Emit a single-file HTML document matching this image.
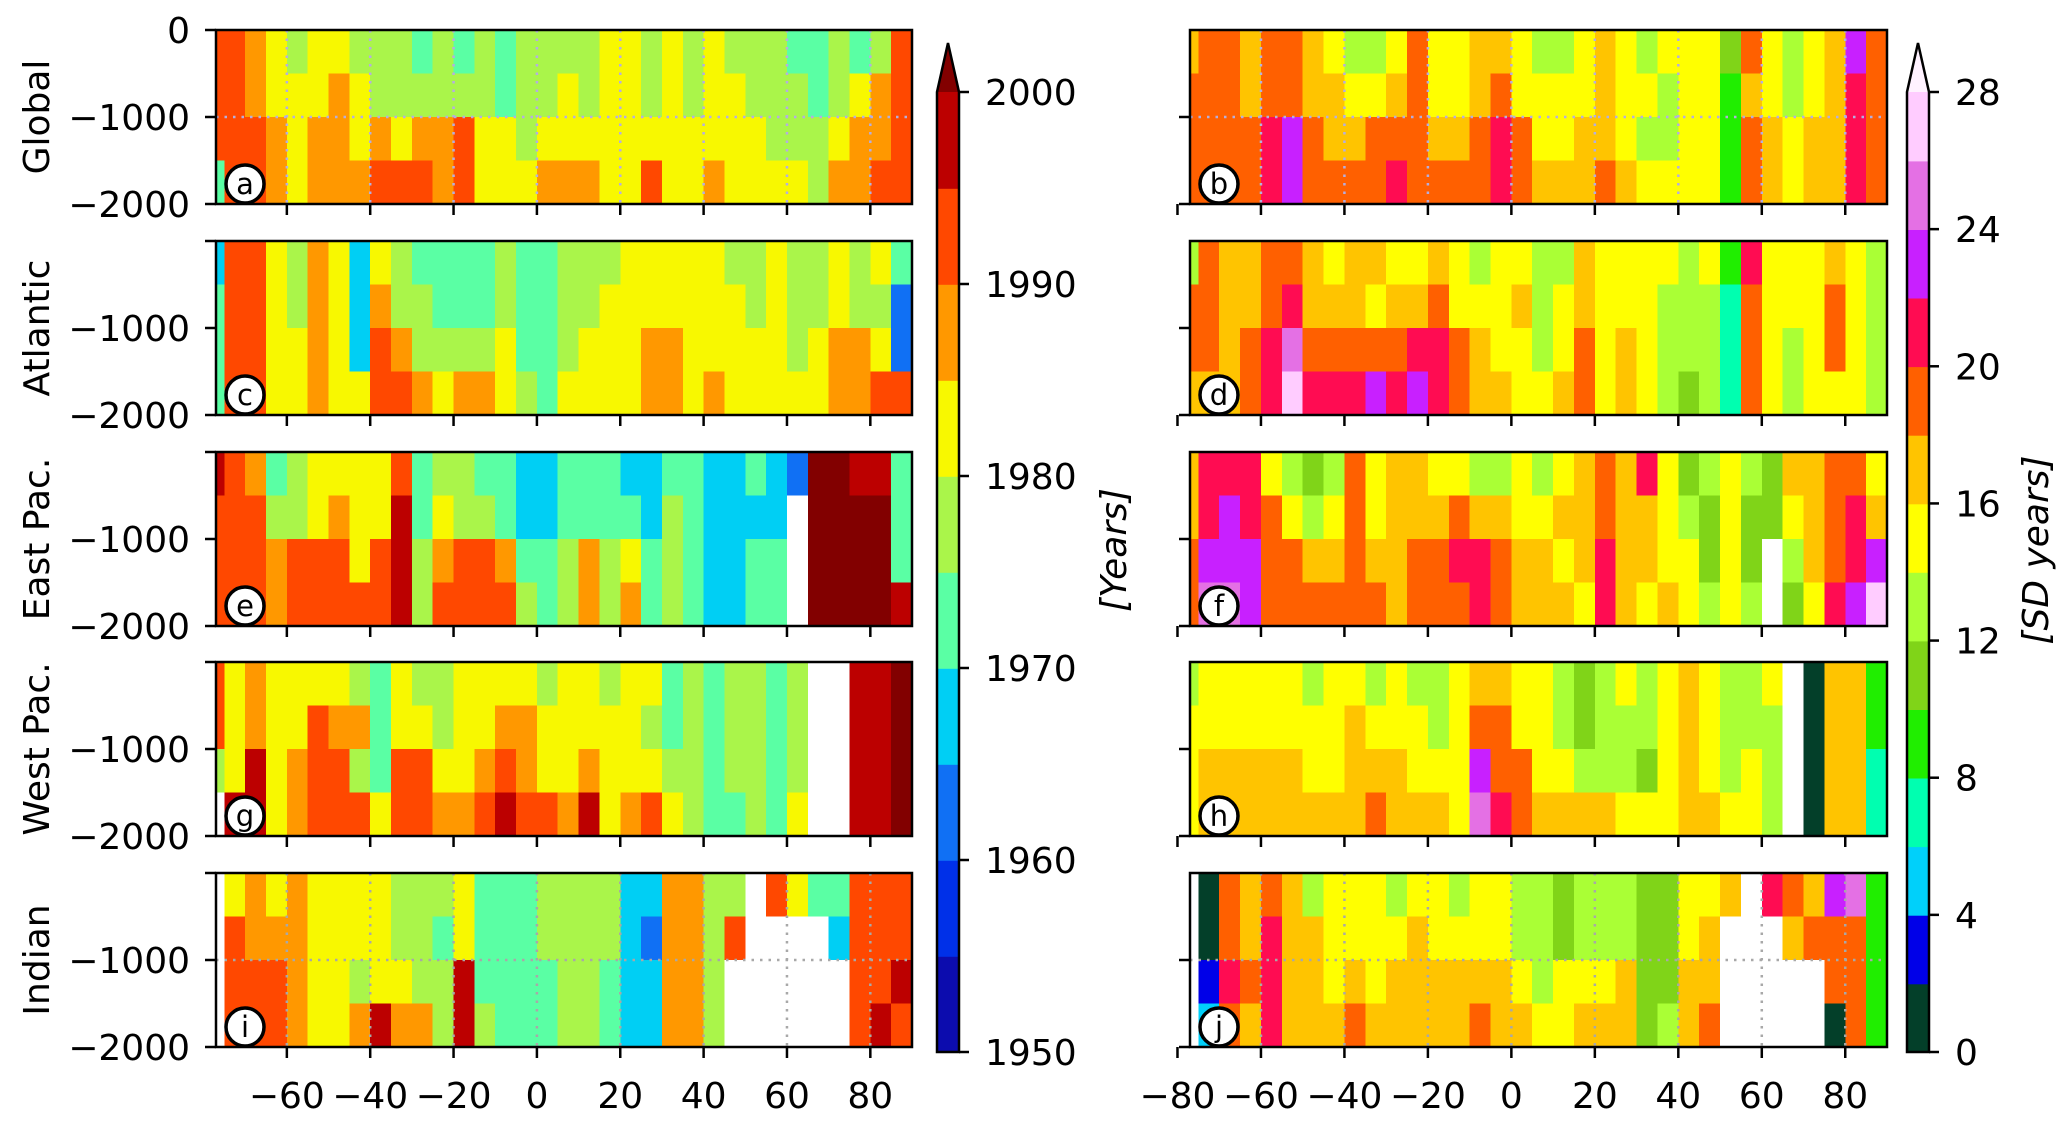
<!DOCTYPE html>
<html><head><meta charset="utf-8"><title>Ocean heat content timing maps</title>
<style>
html,body{margin:0;padding:0;background:#fff;}
svg{display:block;font-family:"DejaVu Sans","Liberation Sans",sans-serif;}
</style></head>
<body>
<svg id="fig" width="2067" height="1122" viewBox="0 0 2067 1122" xmlns="http://www.w3.org/2000/svg">
<g id="cells" shape-rendering="crispEdges"></g>
<g id="over"></g>
</svg>
<script>
// Latitude bin starts (5 degree bins), depth rows (m)
const lats = [-80,-75,-70,-65,-60,-55,-50,-45,-40,-35,-30,-25,-20,-15,-10,-5,0,5,10,15,20,25,30,35,40,45,50,55,60,65,70,75,80,85];
const depthEdges = [0,-500,-1000,-1500,-2000];
const xTicksLeft = [-60,-40,-20,0,20,40,60,80];
const xTicksRight = [-80,-60,-40,-20,0,20,40,60,80];
const yTicks = [0,-1000,-2000];
const yearTicks = [1950,1960,1970,1980,1990,2000];
const sdTicks = [0,4,8,12,16,20,24,28];
const regionNames = ["Global","Atlantic","East Pac.","West Pac.","Indian"];
const leftLetters = ["a","c","e","g","i"];
const rightLetters = ["b","d","f","h","j"];

// Year of emergence (left column); each entry = [0-500,500-1000,1000-1500,1500-2000] per latitude bin
const yrGlobal = [[1992,1992,1992,1972],[1992,1992,1992,1992],[1987,1987,1992,1992],[1982,1982,1987,1987],[1977,1982,1982,1982],[1982,1982,1987,1987],[1982,1987,1987,1987],[1977,1982,1982,1987],[1977,1977,1987,1992],[1977,1977,1982,1992],[1972,1977,1987,1992],[1977,1977,1987,1987],[1972,1977,1992,1992],[1977,1977,1982,1982],[1972,1972,1982,1982],[1977,1977,1977,1982],[1977,1977,1982,1987],[1977,1982,1982,1987],[1977,1977,1982,1987],[1982,1982,1982,1982],[1982,1982,1982,1982],[1977,1977,1982,1992],[1982,1982,1982,1982],[1977,1977,1982,1982],[1982,1982,1982,1987],[1977,1982,1982,1982],[1977,1977,1982,1982],[1977,1977,1977,1982],[1972,1977,1977,1982],[1972,1972,1977,1977],[1977,1977,1982,1987],[1972,1982,1987,1987],[1977,1987,1987,1992],[1992,1992,1992,1992]];
const yrAtlantic = [[1967,1972,1972,1972],[1992,1992,1992,1992],[1992,1992,1992,1992],[1982,1982,1982,1982],[1977,1977,1982,1982],[1987,1987,1987,1987],[1982,1982,1982,1982],[1967,1967,1967,1982],[1982,1987,1992,1992],[1977,1977,1987,1992],[1972,1977,1977,1987],[1972,1972,1977,1982],[1972,1972,1977,1987],[1972,1972,1977,1987],[1977,1977,1982,1982],[1972,1972,1972,1977],[1972,1972,1972,1972],[1977,1977,1977,1982],[1977,1977,1982,1982],[1977,1982,1982,1982],[1982,1982,1982,1982],[1982,1982,1987,1987],[1982,1982,1987,1987],[1982,1982,1982,1982],[1982,1982,1982,1987],[1977,1982,1982,1982],[1977,1977,1982,1982],[1982,1982,1982,1982],[1977,1977,1977,1982],[1977,1977,1982,1982],[1982,1982,1987,1987],[1977,1977,1987,1987],[1982,1977,1982,1992],[1972,1962,1962,1992]];
const yrEastPac = [[1997,1992,1992,1992],[1992,1992,1992,1992],[1987,1992,1992,1992],[1972,1977,1987,1987],[1977,1977,1992,1992],[1982,1982,1992,1992],[1982,1987,1992,1992],[1982,1982,1982,1992],[1982,1982,1992,1992],[1992,1997,1997,1997],[1972,1972,1977,1977],[1977,1982,1987,1992],[1977,1977,1992,1992],[1972,1977,1992,1992],[1972,1972,1987,1992],[1967,1967,1972,1977],[1967,1967,1972,1972],[1972,1972,1977,1977],[1972,1972,1987,1987],[1972,1972,1977,1977],[1967,1972,1982,1987],[1967,1967,1972,1972],[1972,1977,1977,1977],[1972,1972,1972,1972],[1967,1967,1967,1967],[1967,1967,1967,1967],[1972,1967,1972,1972],[1967,1967,1972,1972],[1962,null,null,null],[2002,2002,2002,2002],[2002,2002,2002,2002],[1997,2002,2002,2002],[1997,2002,2002,2002],[1972,1972,1972,1997]];
const yrWestPac = [[1992,1992,1977,null],[1982,1982,1982,1997],[1987,1987,1997,1997],[1982,1982,1982,1982],[1982,1982,1987,1987],[1982,1992,1992,1992],[1982,1987,1992,1992],[1977,1987,1977,1992],[1972,1972,1972,1982],[1982,1982,1992,1992],[1977,1982,1992,1992],[1977,1977,1982,1987],[1982,1982,1982,1987],[1982,1982,1987,1992],[1982,1987,1992,1997],[1982,1987,1987,1992],[1977,1982,1982,1992],[1982,1982,1982,1987],[1982,1982,1987,1997],[1977,1982,1982,1982],[1982,1982,1982,1987],[1982,1977,1982,1992],[1972,1972,1977,1982],[1977,1977,1977,1977],[1972,1972,1972,1972],[1977,1977,1977,1972],[1977,1977,1977,1977],[1972,1972,1972,1972],[1977,1977,1977,1982],[null,null,null,null],[null,null,null,null],[1997,1997,1997,1997],[1997,1997,1997,1997],[2002,2002,2002,2002]];
const yrIndian = [[null,null,null,null],[1982,1992,1992,1992],[1987,1987,1992,1992],[1982,1987,1992,1992],[1987,1987,1987,1987],[1982,1982,1982,1982],[1982,1982,1982,1982],[1982,1982,1977,1987],[1982,1982,1982,1997],[1977,1977,1982,1987],[1977,1977,1977,1987],[1977,1972,1977,1977],[1982,1982,1997,1997],[1972,1972,1972,1977],[1972,1972,1972,1972],[1972,1972,1972,1972],[1977,1977,1972,1972],[1977,1977,1977,1977],[1977,1977,1977,1977],[1977,1977,1972,1972],[1967,1967,1967,1967],[1967,1962,1967,1967],[1987,1987,1987,1987],[1987,1987,1987,1987],[1977,1977,1977,1977],[1977,1992,null,null],[null,null,null,null],[1992,null,null,null],[1982,null,null,null],[1972,null,null,null],[1972,1967,null,null],[1992,1992,1992,1992],[1992,1992,1992,1997],[1992,1992,1997,1992]];

// Spread in years (right column)
const sdGlobal = [[17,19,19,19],[19,19,19,19],[19,19,19,19],[17,17,19,19],[19,19,21,21],[19,19,23,23],[17,17,19,19],[15,17,17,19],[13,15,17,19],[13,15,19,19],[15,17,19,21],[19,19,19,19],[15,15,17,19],[15,15,17,19],[17,17,19,19],[17,19,21,21],[15,15,19,19],[13,15,15,17],[13,15,15,17],[15,15,17,17],[17,17,17,19],[15,15,15,17],[13,15,13,15],[15,13,13,15],[15,15,15,15],[15,15,15,15],[11,9,9,9],[19,17,19,19],[15,15,17,17],[13,13,15,15],[15,15,17,17],[17,17,17,17],[23,21,21,21],[19,19,19,19]];
const sdAtlantic = [[13,19,19,17],[19,19,19,17],[17,17,17,17],[17,17,19,19],[19,19,21,21],[19,21,25,27],[17,17,19,21],[15,17,19,21],[17,17,19,21],[17,15,19,23],[15,17,19,21],[15,17,21,23],[17,19,21,21],[15,15,19,19],[13,15,17,17],[15,15,15,17],[15,17,15,15],[13,13,13,15],[13,15,15,17],[17,17,19,19],[15,15,15,15],[15,15,17,17],[15,15,15,15],[15,13,13,13],[13,13,13,11],[15,13,13,13],[9,7,7,7],[21,19,19,19],[15,15,15,15],[15,15,13,13],[15,15,15,15],[17,19,19,15],[15,15,15,15],[13,13,13,13]];
const sdEastPac = [[17,17,19,19],[21,21,23,25],[21,23,23,25],[21,21,23,23],[15,19,19,19],[13,15,19,19],[11,13,17,19],[13,15,17,19],[19,19,19,19],[15,15,17,19],[17,17,17,17],[17,17,19,19],[15,17,19,19],[15,19,21,19],[13,17,21,21],[13,17,19,19],[15,15,17,17],[13,15,17,17],[15,17,15,17],[17,17,17,15],[19,19,21,21],[17,17,17,17],[21,17,17,15],[15,15,15,17],[11,13,15,15],[13,11,11,13],[15,15,15,15],[13,11,11,13],[11,11,null,null],[17,15,13,11],[17,17,17,15],[19,19,19,21],[19,21,21,23],[15,17,23,27]];
const sdWestPac = [[13,15,15,15],[15,15,17,17],[15,15,17,17],[15,15,17,17],[15,15,17,17],[15,15,17,17],[13,15,15,17],[15,15,15,17],[15,17,17,17],[13,15,17,19],[15,15,17,17],[13,15,15,17],[13,13,15,17],[15,15,15,15],[17,19,23,25],[17,19,19,21],[15,15,19,19],[15,15,15,17],[13,13,15,17],[11,11,13,17],[13,13,13,17],[15,13,13,15],[13,13,11,15],[15,15,15,15],[17,17,17,17],[15,15,15,17],[13,13,13,15],[13,13,15,15],[15,13,13,13],[null,null,null,null],[1,1,1,1],[17,17,17,17],[17,17,17,17],[9,9,7,7]];
const sdIndian = [[null,null,null,null],[1,1,3,5],[19,19,21,19],[17,17,19,17],[19,21,21,21],[17,17,17,17],[13,17,17,17],[15,15,15,17],[15,15,17,19],[15,15,15,17],[13,15,17,17],[15,17,17,17],[15,15,17,17],[13,15,17,17],[15,15,17,19],[15,15,17,17],[13,13,15,17],[13,13,13,15],[11,11,15,15],[13,13,15,17],[13,13,15,17],[13,13,17,17],[11,11,11,11],[11,11,11,13],[15,15,17,17],[15,17,17,19],[17,null,null,null],[null,null,null,null],[21,null,null,null],[19,17,null,null],[17,19,null,null],[23,19,19,1],[25,19,19,19],[9,9,9,9]];

const leftData = [yrGlobal,yrAtlantic,yrEastPac,yrWestPac,yrIndian];
const rightData = [sdGlobal,sdAtlantic,sdEastPac,sdWestPac,sdIndian];

const yrColors = ['#0c0cae','#0030e8','#1070f4','#00cff4','#5affa4','#aaf54a','#f8f800','#ff9800','#ff4800','#bc0000'];
const yrOver = '#820000';
const sdColors = ['#033f29','#0000e8','#00d0fa','#00ffb0','#20ee00','#80d418','#aaff35','#ffff00','#ffc400','#ff6000','#ff0c52','#c820ff','#e470e4','#ffccff'];
const sdOver = '#fff2ff';

const NS = 'http://www.w3.org/2000/svg';
const cells = document.getElementById('cells');
const over = document.getElementById('over');
function mk(tag, attrs, parent){const e=document.createElementNS(NS,tag);for(const k in attrs)e.setAttribute(k,attrs[k]);(parent||over).appendChild(e);return e;}

const LAT0=-77, LAT1=90, PH=174, PTOPS=[30,241,452,662,873];
const PX=[216,1190], PW=[696,697];
function xScale(side,lat){return PX[side]+(lat-LAT0)/(LAT1-LAT0)*PW[side];}
function yScale(p,d){return PTOPS[p]+(-d)/2000*PH;}
function yrColor(v){if(v===null)return '#ffffff';if(v>=2000)return yrOver;let i=Math.floor((v-1950)/5);return yrColors[Math.max(0,Math.min(9,i))];}
function sdColor(v){if(v===null)return '#ffffff';if(v>=28)return sdOver;let i=Math.floor(v/2);return sdColors[Math.max(0,Math.min(13,i))];}

for(let side=0;side<2;side++){
  for(let p=0;p<5;p++){
    const data = side===0?leftData[p]:rightData[p];
    const g=mk('g',{},cells);
    
    
    for(let k=0;k<lats.length;k++){
      const a=Math.max(lats[k],LAT0), b=Math.min(lats[k]+5,LAT1);
      if(b<=a) continue;
      const x0=xScale(side,a), x1=xScale(side,b);
      for(let r=0;r<4;r++){
        const v=data[k][r];
        const y0=yScale(p,depthEdges[r]), y1=yScale(p,depthEdges[r+1]);
        const c=mk('rect',{x:x0.toFixed(1),y:y0.toFixed(1),width:(x1-x0+0.8).toFixed(1),height:(y1-y0+0.8).toFixed(1),fill:side===0?yrColor(v):sdColor(v)},g);
        
        
      }
    }
  }
}

// dotted grid lines in panels a, b, i, j
const gridPanels=[[0,0],[1,0],[0,4],[1,4]];
gridPanels.forEach(([side,p])=>{
  const col = p===4 ? '#a8a8a8' : '#b4aee0';
  xTicksLeft.forEach(t=>{
    const x=xScale(side,t);
    const l=mk('line',{x1:x,x2:x,y1:PTOPS[p],y2:PTOPS[p]+PH,stroke:col,'stroke-width':2.5,'stroke-dasharray':'2.5,6'});
    
    
  });
  const y=yScale(p,-1000);
  const l=mk('line',{x1:PX[side],x2:PX[side]+PW[side],y1:y,y2:y,stroke:col,'stroke-width':2.5,'stroke-dasharray':'2.5,6'});
  
  
});

// frames, ticks, labels
for(let side=0;side<2;side++){
  for(let p=0;p<5;p++){
    const f=mk('rect',{x:PX[side],y:PTOPS[p],width:PW[side],height:PH,fill:'none',stroke:'#000','stroke-width':2.5});
    
    
    // y ticks
    yTicks.forEach(t=>{
      if(t===0 && side===1) return;
      const y=yScale(p,t);
      const tk=mk('line',{x1:PX[side]-11,x2:PX[side],y1:y,y2:y,stroke:'#000','stroke-width':2.5});
      
      
      if(side===0 && (t!==0 || p===0)){
        const tx=mk('text',{x:190,y:y+13,'font-size':36,'text-anchor':'end',fill:'#000'});
        tx.textContent = t===0?'0':'\u2212'+(-t);
        
        
      }
    });
    // x ticks
    const xt = side===0?xTicksLeft:xTicksRight;
    xt.forEach(t=>{
      const x=xScale(side,t);
      const tk=mk('line',{x1:x,x2:x,y1:PTOPS[p]+PH,y2:PTOPS[p]+PH+11,stroke:'#000','stroke-width':2.5});
      
      
      if(p===4){
        const tx=mk('text',{x:x,y:1108,'font-size':36,'text-anchor':'middle',fill:'#000'});
        tx.textContent = t<0?'\u2212'+(-t):String(t);
        
        
      }
    });
    // panel letter badge
    const cx=PX[side]+29, cy=PTOPS[p]+PH-20;
    const c=mk('circle',{cx:cx,cy:cy,r:19,fill:'#fff',stroke:'#000','stroke-width':3.5});
    
    
    const lt=mk('text',{x:cx,y:cy+10,'font-size':29,'text-anchor':'middle',fill:'#000'});
    lt.textContent = side===0?leftLetters[p]:rightLetters[p];
    
    
    if(side===0){
      const cyc=PTOPS[p]+PH/2;
      const rn=mk('text',{x:0,y:0,'font-size':36,'text-anchor':'middle',fill:'#000',transform:'translate(49,'+cyc+') rotate(-90)'});
      rn.textContent=regionNames[p];
      
      
    }
  }
}

// colorbars
function colorbar(x0,w,yTop,yBot,colors,overColor,ticks,tv2y,name,label,labelX){
  const g=mk('g',{});
  
  
  const n=colors.length, h=(yBot-yTop)/n;
  colors.forEach((c,i)=>{
    const r=mk('rect',{x:x0,y:(yBot-(i+1)*h).toFixed(1),width:w,height:(h+0.8).toFixed(1),fill:c},g);
    
    
  });
  const tri=mk('polygon',{points:`${x0},${yTop} ${x0+w/2},${yTop-49} ${x0+w},${yTop}`,fill:overColor},g);
  
  
  const out=mk('path',{d:`M${x0},${yBot} L${x0},${yTop} L${x0+w/2},${yTop-49} L${x0+w},${yTop} L${x0+w},${yBot} Z`,fill:'none',stroke:'#000','stroke-width':2.5},g);
  
  
  ticks.forEach(t=>{
    const y=tv2y(t);
    const tk=mk('line',{x1:x0+w,x2:x0+w+10,y1:y,y2:y,stroke:'#000','stroke-width':2.5},g);
    
    
    const tx=mk('text',{x:x0+w+26,y:y+13,'font-size':36,fill:'#000'},g);
    tx.textContent=String(t);
    
    
  });
  const lb=mk('text',{x:0,y:0,'font-size':36,'font-style':'italic','text-anchor':'middle',fill:'#000',transform:`translate(${labelX},550) rotate(-90)`},g);
  lb.textContent=label;
  
  
}
const CB_TOP=92, CB_BOT=1052;
colorbar(937,22,CB_TOP,CB_BOT,yrColors,yrOver,yearTicks,t=>CB_BOT-(t-1950)/50*(CB_BOT-CB_TOP),'year-colorbar','[Years]',1126);
colorbar(1907,22,CB_TOP,CB_BOT,sdColors,sdOver,sdTicks,t=>CB_BOT-t/28*(CB_BOT-CB_TOP),'sd-colorbar','[SD years]',2048);
</script>
</body></html>
